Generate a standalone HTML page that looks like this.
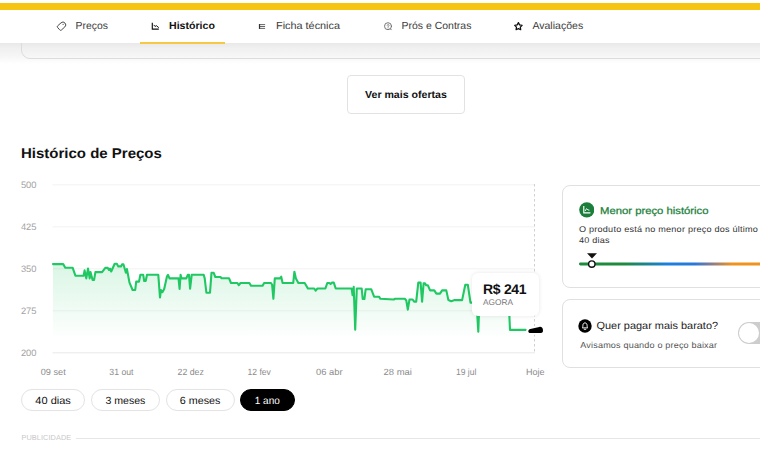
<!DOCTYPE html>
<html><head><meta charset="utf-8">
<style>
*{margin:0;padding:0;box-sizing:border-box}
html,body{width:760px;height:450px;overflow:hidden;background:#fff;font-family:"Liberation Sans",sans-serif;}
body{position:relative}
.a{position:absolute}
.t{position:absolute;white-space:nowrap;line-height:14px;height:14px;text-rendering:geometricPrecision}
.s{left:0;top:0;pointer-events:none;overflow:visible}
text{font-family:"Liberation Sans",sans-serif;text-rendering:geometricPrecision;white-space:pre}
.pill{position:absolute;top:388.6px;height:22px;border:1px solid #e3e3e3;border-radius:11px}
</style></head><body>
<div class="a" style="left:0;top:2.8px;width:760px;height:7.2px;background:#f6c513"></div>
<div class="a" style="left:0;top:43px;width:760px;height:21px;background:linear-gradient(#e8e8e8 0,#f0f0f0 24%,#f5f5f5 58%,#fafafa 80%,#fff 100%)"></div>
<div class="a" style="left:20.8px;top:20px;width:760px;height:38.6px;border:1px solid #dcdcdc;border-radius:9px;background:transparent"></div>
<div class="a" style="left:0;top:10px;width:760px;height:33px;background:#fff"></div>
<svg class="a s" width="760" height="450"><text id="n1" transform="translate(75.60 29.30) scale(1.0107 1)" font-size="10.3" fill="#3c3c3c">Preços</text></svg>
<svg class="a s" width="760" height="450"><text id="n2" transform="translate(169.00 29.30) scale(1.0282 1)" font-size="10.3" fill="#111" font-weight="bold">Histórico</text></svg>
<div class="a" style="left:140px;top:41.6px;width:85px;height:2.2px;background:#f6c844"></div>
<svg class="a s" width="760" height="450"><text id="n3" transform="translate(276.00 29.30) scale(1.0546 1)" font-size="10.3" fill="#3c3c3c">Ficha técnica</text></svg>
<svg class="a s" width="760" height="450"><text id="n4" transform="translate(401.50 29.30) scale(1.0175 1)" font-size="10.3" fill="#3c3c3c">Prós e Contras</text></svg>
<svg class="a s" width="760" height="450"><text id="n5" transform="translate(532.40 29.30) scale(1.0237 1)" font-size="10.3" fill="#3c3c3c">Avaliações</text></svg>
<svg class="a s" width="760" height="450" fill="none" stroke-linejoin="round" stroke-linecap="round">
<g transform="translate(61.8 25.9) rotate(-42)" stroke="#444" stroke-width="0.9"><path d="M-4.2 -1.7 Q-4.2 -2.8 -3.1 -2.8 H1.5 A2.8 2.8 0 0 1 1.5 2.8 H-3.1 Q-4.2 2.8 -4.2 1.7 Z"/><circle cx="2" cy="-0.3" r="0.55" fill="#444" stroke="none"/></g>
<path d="M152.3 22.7 V29.1 H158.8" stroke="#111" stroke-width="1.15" stroke-linecap="butt" stroke-linejoin="miter"/>
<path d="M154 25.2 L155.1 26.5 L156.3 25.6 L158.5 27.4" stroke="#111" stroke-width="1"/>
<path d="M259 24.6 H265.1 M259 26.5 H265.1 M259 28.4 H265.1" stroke="#555" stroke-width="0.9" stroke-linecap="butt"/>
<rect x="258.9" y="24.1" width="1.2" height="4.8" fill="#333" stroke="none"/>
<circle cx="388" cy="26.2" r="3.5" stroke="#666" stroke-width="0.9"/>
<path d="M390.3 28.8 L391.3 29.8" stroke="#666" stroke-width="0.9"/>
<path d="M387.1 25.2 C387.1 24.3 389 24.3 389 25.3 C389 26 388.1 26.1 388.1 26.9 M388.1 27.9 V28" stroke="#666" stroke-width="0.8"/>
<path d="M518.40 22.65 L519.60 24.89 L522.11 25.34 L520.35 27.18 L520.69 29.71 L518.40 28.60 L516.11 29.71 L516.45 27.18 L514.69 25.34 L517.20 24.89 Z" stroke="#111" stroke-width="1.25"/>
</svg>
<div class="a" style="left:347px;top:74.5px;width:118px;height:39.5px;border:1px solid #e2e2e2;border-radius:4px"></div>
<svg class="a s" width="760" height="450"><text id="vm" transform="translate(365.00 97.90) scale(1.0291 1)" font-size="10.3" fill="#111" font-weight="bold">Ver mais ofertas</text></svg>
<svg class="a s" width="760" height="450"><text id="ti" transform="translate(21.00 158.40) scale(1.0640 1)" font-size="14.1" fill="#111" font-weight="bold">Histórico de Preços</text></svg>
<svg class="a" style="left:0;top:0" width="760" height="450" viewBox="0 0 760 450">
<defs>
<linearGradient id="g" x1="0" y1="264" x2="0" y2="340" gradientUnits="userSpaceOnUse">
<stop offset="0" stop-color="#1ec760" stop-opacity="0.165"/>
<stop offset="1" stop-color="#1ec760" stop-opacity="0"/>
</linearGradient>
<linearGradient id="bar" x1="579" y1="0" x2="760" y2="0" gradientUnits="userSpaceOnUse">
<stop offset="0" stop-color="#1d8a3e"/>
<stop offset="0.25" stop-color="#1d8a3e"/>
<stop offset="0.49" stop-color="#1b7fe0"/>
<stop offset="0.64" stop-color="#2a78d8"/>
<stop offset="0.735" stop-color="#8a7c8c"/>
<stop offset="0.845" stop-color="#f0921e"/>
<stop offset="1" stop-color="#f0921e"/>
</linearGradient>
</defs>
<g stroke="#f2f2f2" stroke-width="1">
<line x1="52.5" y1="184.8" x2="535" y2="184.8"/>
<line x1="52.5" y1="226.8" x2="535" y2="226.8"/>
<line x1="52.5" y1="268.8" x2="535" y2="268.8"/>
<line x1="52.5" y1="310.8" x2="535" y2="310.8"/>
<line x1="52.5" y1="352.8" x2="535" y2="352.8" stroke="#e8e8e8"/>
</g>
<line x1="534.5" y1="184" x2="534.5" y2="352" stroke="#d0d0d0" stroke-width="1" stroke-dasharray="2.5 2.5"/>
<path d="M53.0,264.1 L63.2,264.1 L65.3,267.7 L72.6,267.7 L75.4,275.7 L83.6,275.7 L84.6,270.4 L86.3,278.4 L88.0,268.5 L89.7,278.4 L90.5,272.1 L92.6,279.9 L94.1,279.9 L95.4,272.1 L102.1,272.1 L105.3,267.9 L107.8,267.9 L109.0,270.0 L110.0,268.5 L111.2,271.5 L114.7,263.7 L116.8,263.7 L118.3,266.4 L121.0,266.4 L122.1,264.3 L123.4,264.3 L125.9,272.7 L126.9,269.0 L129.5,282.6 L132.6,290.0 L135.2,290.0 L136.2,281.6 L139.0,281.6 L140.4,274.8 L143.2,274.8 L144.2,281.0 L145.7,281.0 L147.0,274.8 L158.3,274.8 L160.0,297.4 L161.0,290.0 L162.5,292.1 L164.2,289.0 L167.0,276.3 L168.0,274.8 L169.5,278.4 L178.5,278.4 L179.6,289.0 L180.6,274.8 L181.5,278.4 L186.3,278.4 L187.8,274.8 L189.0,274.8 L190.1,288.6 L191.7,274.8 L203.7,274.8 L204.7,278.4 L206.4,292.7 L210.0,292.7 L211.5,272.7 L213.6,272.7 L215.3,277.0 L220.5,277.0 L221.6,278.2 L229.0,278.2 L231.0,283.0 L237.4,283.0 L238.8,285.2 L240.5,283.0 L249.4,283.0 L251.0,285.8 L262.6,285.8 L264.1,283.0 L271.0,283.0 L272.1,284.7 L273.4,298.8 L274.8,278.4 L280.1,278.4 L281.2,276.7 L282.6,283.0 L293.2,283.0 L294.4,271.7 L295.9,278.4 L298.4,283.0 L304.7,283.0 L307.9,288.5 L314.2,288.5 L315.7,290.6 L317.4,288.5 L325.4,288.5 L327.3,283.0 L329.4,283.0 L330.6,284.1 L332.1,282.6 L333.8,282.6 L335.7,288.5 L351.6,288.5 L352.6,295.3 L353.7,286.8 L355.2,329.6 L356.8,288.5 L361.7,288.5 L362.7,299.0 L364.4,299.0 L365.7,289.2 L371.2,289.2 L374.1,296.7 L379.0,296.7 L380.4,298.8 L393.7,299.5 L395.2,298.8 L404.8,298.8 L406.3,300.5 L407.8,309.6 L409.5,299.5 L412.6,299.5 L414.1,301.6 L416.2,301.6 L418.3,282.6 L420.6,282.6 L422.1,301.6 L423.6,283.3 L425.0,283.3 L426.1,285.2 L427.8,285.2 L430.1,290.4 L434.3,290.4 L436.4,293.6 L440.0,293.6 L442.1,290.4 L446.3,290.4 L448.4,300.1 L451.2,301.2 L454.7,300.1 L462.1,300.1 L465.3,284.7 L467.8,284.7 L470.5,302.6 L476.5,302.6 L478.3,331.7 L479.6,296.0 L485.0,296.0 L487.0,292.0 L500.0,292.0 L502.0,296.0 L508.5,296.0 L510.0,329.9 L525.6,329.9 L525.6,352.8 L53,352.8 Z" fill="url(#g)"/>
<path d="M53.0,264.1 L63.2,264.1 L65.3,267.7 L72.6,267.7 L75.4,275.7 L83.6,275.7 L84.6,270.4 L86.3,278.4 L88.0,268.5 L89.7,278.4 L90.5,272.1 L92.6,279.9 L94.1,279.9 L95.4,272.1 L102.1,272.1 L105.3,267.9 L107.8,267.9 L109.0,270.0 L110.0,268.5 L111.2,271.5 L114.7,263.7 L116.8,263.7 L118.3,266.4 L121.0,266.4 L122.1,264.3 L123.4,264.3 L125.9,272.7 L126.9,269.0 L129.5,282.6 L132.6,290.0 L135.2,290.0 L136.2,281.6 L139.0,281.6 L140.4,274.8 L143.2,274.8 L144.2,281.0 L145.7,281.0 L147.0,274.8 L158.3,274.8 L160.0,297.4 L161.0,290.0 L162.5,292.1 L164.2,289.0 L167.0,276.3 L168.0,274.8 L169.5,278.4 L178.5,278.4 L179.6,289.0 L180.6,274.8 L181.5,278.4 L186.3,278.4 L187.8,274.8 L189.0,274.8 L190.1,288.6 L191.7,274.8 L203.7,274.8 L204.7,278.4 L206.4,292.7 L210.0,292.7 L211.5,272.7 L213.6,272.7 L215.3,277.0 L220.5,277.0 L221.6,278.2 L229.0,278.2 L231.0,283.0 L237.4,283.0 L238.8,285.2 L240.5,283.0 L249.4,283.0 L251.0,285.8 L262.6,285.8 L264.1,283.0 L271.0,283.0 L272.1,284.7 L273.4,298.8 L274.8,278.4 L280.1,278.4 L281.2,276.7 L282.6,283.0 L293.2,283.0 L294.4,271.7 L295.9,278.4 L298.4,283.0 L304.7,283.0 L307.9,288.5 L314.2,288.5 L315.7,290.6 L317.4,288.5 L325.4,288.5 L327.3,283.0 L329.4,283.0 L330.6,284.1 L332.1,282.6 L333.8,282.6 L335.7,288.5 L351.6,288.5 L352.6,295.3 L353.7,286.8 L355.2,329.6 L356.8,288.5 L361.7,288.5 L362.7,299.0 L364.4,299.0 L365.7,289.2 L371.2,289.2 L374.1,296.7 L379.0,296.7 L380.4,298.8 L393.7,299.5 L395.2,298.8 L404.8,298.8 L406.3,300.5 L407.8,309.6 L409.5,299.5 L412.6,299.5 L414.1,301.6 L416.2,301.6 L418.3,282.6 L420.6,282.6 L422.1,301.6 L423.6,283.3 L425.0,283.3 L426.1,285.2 L427.8,285.2 L430.1,290.4 L434.3,290.4 L436.4,293.6 L440.0,293.6 L442.1,290.4 L446.3,290.4 L448.4,300.1 L451.2,301.2 L454.7,300.1 L462.1,300.1 L465.3,284.7 L467.8,284.7 L470.5,302.6 L476.5,302.6 L478.3,331.7 L479.6,296.0 L485.0,296.0 L487.0,292.0 L500.0,292.0 L502.0,296.0 L508.5,296.0 L510.0,329.9 L525.6,329.9" fill="none" stroke="#20c863" stroke-width="2.1" stroke-linejoin="round" stroke-linecap="round"/>
<path d="M528.3 331.3 C528.3 330.1 529 329.3 530.3 328.9 L539.3 326.9 C541.4 326.5 542.5 327.6 542.9 329.5 C543.3 331.6 542.6 332.9 540.8 333 L530.3 333.1 C529 333.1 528.3 332.5 528.3 331.3 Z" fill="#000" stroke="#fff" stroke-width="3.4" paint-order="stroke"/>
<rect x="579" y="262.6" width="190" height="2.8" rx="1.4" fill="url(#bar)"/>
<path d="M587 253.2 H597 L592 258.4 Z" fill="#111"/>
<circle cx="591.8" cy="264.1" r="3.2" fill="#fff" stroke="#111" stroke-width="1.4"/>
</svg>
<svg class="a s" width="760" height="450"><text transform="translate(20.90 187.90) scale(1.0054 1)" font-size="9.3" fill="#a2a2a2">500</text></svg>
<svg class="a s" width="760" height="450"><text transform="translate(20.90 229.90) scale(1.0054 1)" font-size="9.3" fill="#a2a2a2">425</text></svg>
<svg class="a s" width="760" height="450"><text transform="translate(20.90 271.90) scale(1.0054 1)" font-size="9.3" fill="#a2a2a2">350</text></svg>
<svg class="a s" width="760" height="450"><text transform="translate(20.90 313.90) scale(1.0054 1)" font-size="9.3" fill="#a2a2a2">275</text></svg>
<svg class="a s" width="760" height="450"><text transform="translate(20.90 355.90) scale(1.0054 1)" font-size="9.3" fill="#a2a2a2">200</text></svg>
<svg class="a s" width="760" height="450"><text transform="translate(40.70 374.60) scale(1.0197 1)" font-size="9.0" fill="#8c8c8c">09 set</text></svg>
<svg class="a s" width="760" height="450"><text transform="translate(109.30 374.60) scale(0.9671 1)" font-size="9.0" fill="#8c8c8c">31 out</text></svg>
<svg class="a s" width="760" height="450"><text transform="translate(177.55 374.60) scale(0.9733 1)" font-size="9.0" fill="#8c8c8c">22 dez</text></svg>
<svg class="a s" width="760" height="450"><text transform="translate(247.55 374.60) scale(0.9504 1)" font-size="9.0" fill="#8c8c8c">12 fev</text></svg>
<svg class="a s" width="760" height="450"><text transform="translate(316.00 374.60) scale(1.0424 1)" font-size="9.0" fill="#8c8c8c">06 abr</text></svg>
<svg class="a s" width="760" height="450"><text transform="translate(383.50 374.60) scale(1.0513 1)" font-size="9.0" fill="#8c8c8c">28 mai</text></svg>
<svg class="a s" width="760" height="450"><text transform="translate(456.00 374.60) scale(0.9481 1)" font-size="9.0" fill="#8c8c8c">19 jul</text></svg>
<svg class="a s" width="760" height="450"><text transform="translate(525.90 374.60) scale(1.0049 1)" font-size="9.0" fill="#8c8c8c">Hoje</text></svg>
<div class="a" style="left:472px;top:273px;width:67px;height:43px;background:#fff;border-radius:6px;box-shadow:0 0 4px rgba(0,0,0,.10)"></div>
<span id="tp" class="t" style="left:483px;top:281.5px;font-size:14px;font-weight:bold;color:#111;letter-spacing:-0.3px">R$ 241</span>
<span id="ag" class="t" style="left:483px;top:294.9px;font-size:8.3px;color:#777">AGORA</span>
<div class="pill" style="left:21px;width:64px"></div>
<div class="pill" style="left:91px;width:69px"></div>
<div class="pill" style="left:165.5px;width:69.5px"></div>
<div class="pill" style="left:240px;width:54.5px;background:#000;border-color:#000"></div>
<svg class="a s" width="760" height="450"><text transform="translate(35.30 403.80) scale(1.0615 1)" font-size="10.4" fill="#111">40 dias</text></svg>
<svg class="a s" width="760" height="450"><text transform="translate(105.40 403.80) scale(1.0177 1)" font-size="10.4" fill="#111">3 meses</text></svg>
<svg class="a s" width="760" height="450"><text transform="translate(179.80 403.80) scale(1.0330 1)" font-size="10.4" fill="#111">6 meses</text></svg>
<svg class="a s" width="760" height="450"><text transform="translate(254.80 403.80) scale(0.9606 1)" font-size="10.4" fill="#fff">1 ano</text></svg>
<span class="t" style="left:21.5px;top:431px;font-size:7.3px;color:#c8c8c8;letter-spacing:0.1px">PUBLICIDADE</span>
<div class="a" style="left:76px;top:438px;width:690px;height:1px;background:#e6e6e6"></div>
<div class="a" style="left:562px;top:185px;width:220px;height:103px;border:1px solid #e0e0e0;border-radius:8px"></div>
<svg class="a" style="left:578.7px;top:201.95px" width="15.6" height="15.6" viewBox="0 0 15 15"><circle cx="7.5" cy="7.5" r="7.3" fill="#1b7f3b"/><path d="M4.6 3.9 V10.4 H11" fill="none" stroke="#fff" stroke-width="1.1"/><path d="M6 8.6 L7.2 6.4 L8.6 7.6 L10 7.9" fill="none" stroke="#fff" stroke-width="0.9"/></svg>
<svg class="a s" width="760" height="450"><text id="c1t" transform="translate(600.00 214.30) scale(1.1430 1)" font-size="9.9" fill="#1b7f3b" style="stroke:#1b7f3b;stroke-width:0.25px;">Menor preço histórico</text></svg>
<svg class="a s" width="760" height="450"><text id="c1d" transform="translate(579.00 232.00) scale(1.0862 1)" font-size="8.4" fill="#333" style="letter-spacing:0.2px;">O produto está no menor preço dos último</text></svg>
<svg class="a s" width="760" height="450"><text transform="translate(579.00 242.60) scale(1.0862 1)" font-size="8.4" fill="#333" style="letter-spacing:0.2px;">40 dias</text></svg>
<div class="a" style="left:562px;top:299px;width:220px;height:68.5px;border:1px solid #e0e0e0;border-radius:8px"></div>
<svg class="a" style="left:578px;top:318.9px" width="14" height="14" viewBox="0 0 14 14"><circle cx="7" cy="7" r="6.7" fill="#000"/><path d="M4.3 8.9 C4.3 8.9 4.9 8.2 4.9 6.5 C4.9 5 5.7 3.9 7 3.9 C8.3 3.9 9.1 5 9.1 6.5 C9.1 8.2 9.7 8.9 9.7 8.9 Z" fill="none" stroke="#fff" stroke-width="1" stroke-linejoin="round"/><path d="M6.2 10.3 H7.8" stroke="#fff" stroke-width="0.9" stroke-linecap="round"/></svg>
<svg class="a s" width="760" height="450"><text id="c2t" transform="translate(596.50 328.90) scale(1.0619 1)" font-size="10.3" fill="#222">Quer pagar mais barato?</text></svg>
<svg class="a s" width="760" height="450"><text id="c2d" transform="translate(580.30 347.60) scale(1.0571 1)" font-size="8.6" fill="#555" style="letter-spacing:0.15px;">Avisamos quando o preço baixar</text></svg>
<div class="a" style="left:737.5px;top:322px;width:40px;height:22px;border-radius:11px;background:#cdcdcd"></div>
<div class="a" style="left:738.5px;top:323px;width:20px;height:20px;border-radius:10px;background:#fff"></div>
</body></html>
